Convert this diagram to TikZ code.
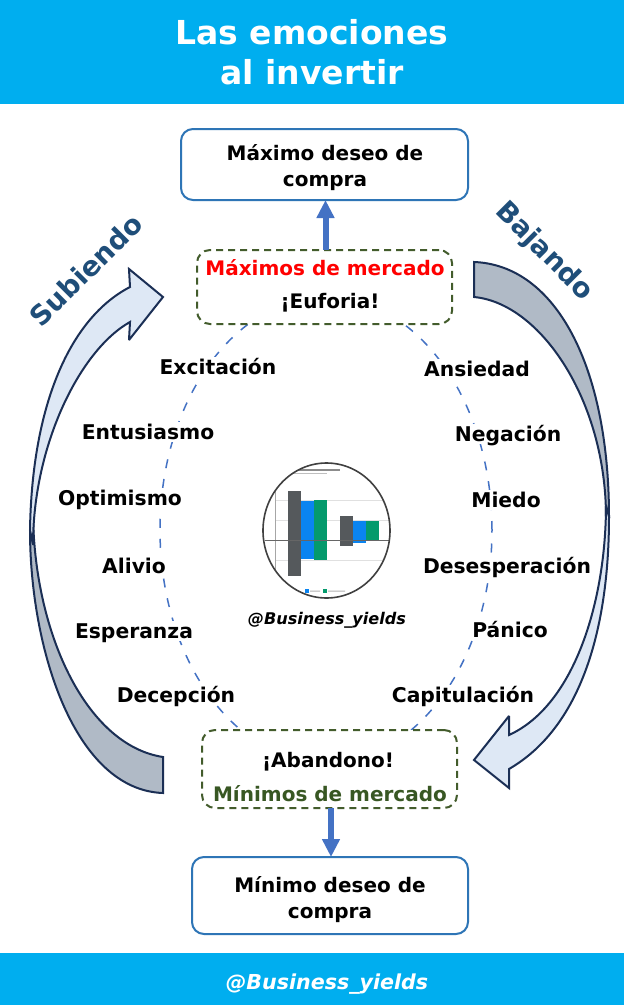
\documentclass[tikz,border=0pt]{standalone}
\usepackage{fontspec}
\setmainfont{DejaVu Sans}
\usetikzlibrary{arrows.meta}
\definecolor{banner}{HTML}{00AEEF}
\definecolor{boxblue}{HTML}{2E75B6}
\definecolor{arrowblue}{HTML}{4472C4}
\definecolor{dashgreen}{HTML}{435C2C}
\definecolor{lowgreen}{HTML}{385723}
\definecolor{titleblue}{HTML}{1F4E79}
\definecolor{ribbonlight}{HTML}{DEE8F5}
\definecolor{ribbondark}{HTML}{B0BAC6}
\definecolor{ribbonline}{HTML}{1B2F55}
\definecolor{bargray}{HTML}{55595C}
\definecolor{barblue}{HTML}{0A84F0}
\definecolor{bargreen}{HTML}{049A6C}
\tikzset{
  x=1pt,y=-1pt,
  bannerbox/.style={fill=banner,draw=none},
  decisionbox/.style={draw=boxblue,line width=2pt,rounded corners=12pt,fill=white,anchor=north west,inner sep=0pt,outer sep=0pt},
  marketbox/.style={draw=dashgreen,line width=2pt,dash pattern=on 7pt off 5pt,rounded corners=13pt,fill=white,anchor=north west,inner sep=0pt,outer sep=0pt},
  bold18/.style={font=\fontsize{20}{26}\selectfont\bfseries,align=center,inner sep=0pt},
  emotion/.style={font=\fontsize{20.3}{22}\selectfont\bfseries,fill=white,inner xsep=1pt,inner ysep=1pt,text height=16pt,text depth=2pt},
  thick arrow/.style={draw=arrowblue,line width=6pt,-{Triangle[width=17pt,length=18pt]}},
  ribbon/.style={draw=ribbonline,line width=2pt,line join=miter,miter limit=3},
  side/.style={font=\fontsize{27.5}{30}\selectfont\bfseries,text=titleblue,inner sep=0pt},
}
\begin{document}
\begin{tikzpicture}
\useasboundingbox (0,0) rectangle (624,1005);
\fill[white] (0,0) rectangle (624,1005);
% banners
\path[bannerbox] (0,0) rectangle (624,104);
\path[bannerbox] (0,953) rectangle (624,1005);
\node[font=\fontsize{33}{40}\selectfont\bfseries,text=white,align=center,inner sep=0pt] (title) at (312,52) {Las emociones\\al invertir};
\node[font=\fontsize{20.6}{26}\selectfont\bfseries\itshape,text=white,inner sep=0pt] (foot) at (327,984.5) {@Business\_yields};
% dashed oval
\draw[arrowblue,line width=1.5pt,dash pattern=on 9pt off 11pt] (326,530) ellipse [x radius=166pt,y radius=233pt];
% ribbons
\draw[ribbon,fill=ribbondark] (163,757) .. controls (85,745) and (33,630) .. (33,510)
  -- (30,530) .. controls (30,650) and (75,790) .. (163,793) -- cycle;
\draw[ribbon,fill=ribbonlight] (30,530) .. controls (32,405) and (70,318) .. (130,287)
  -- (129,269) -- (163,297) -- (129,340) -- (130,322)
  .. controls (80,350) and (33,445) .. (33,545) -- cycle;
\draw[ribbon,fill=ribbondark] (474,262) .. controls (555,265) and (609,365) .. (609,517)
  -- (606,517) .. controls (606,400) and (540,303) .. (474,297) -- cycle;
\draw[ribbon,fill=ribbonlight] (609,517) .. controls (609,620) and (585,725) .. (509,769)
  -- (509,788) -- (474,760) -- (509,716) -- (509,735)
  .. controls (575,705) and (606,600) .. (606,505) -- cycle;
% boxes
\node[decisionbox,minimum width=287pt,minimum height=71pt] (maxbox) at (181,129) {};
\node[marketbox,minimum width=255pt,minimum height=74pt] (topmarket) at (197,250) {};
\node[marketbox,minimum width=255pt,minimum height=78pt] (lowmarket) at (202,730) {};
\node[decisionbox,minimum width=276pt,minimum height=77pt] (minbox) at (192,857) {};
\node[bold18] (maxtext) at (325,167.5) {Máximo deseo de\\compra};
\node[bold18] (mintext) at (330,899.5) {Mínimo deseo de\\compra};
\node[bold18,text=red] (toptext) at (325,268) {Máximos de mercado};
\node[bold18] (euforia) at (330,302.5) {¡Euforia!};
\node[bold18] (abandono) at (328,761.5) {¡Abandono!};
\node[bold18,text=lowgreen] (lowtext) at (330,794) {Mínimos de mercado};
\draw[thick arrow] ([xshift=1pt]topmarket.north) -- ([xshift=1pt]topmarket.north |- maxbox.south);
\draw[thick arrow] ([xshift=1.5pt]lowmarket.south) -- ([xshift=1.5pt]lowmarket.south |- minbox.north);
% emotions
\node[emotion] (e1) at (218,367) {Excitación};
\node[emotion] (e2) at (148,432) {Entusiasmo};
\node[emotion] (e3) at (120,498) {Optimismo};
\node[emotion] (e4) at (134,566) {Alivio};
\node[emotion] (e5) at (134,631) {Esperanza};
\node[emotion] (e6) at (176,695) {Decepción};
\node[emotion] (d1) at (477,369) {Ansiedad};
\node[emotion] (d2) at (508,434) {Negación};
\node[emotion] (d3) at (506,500) {Miedo};
\node[emotion] (d4) at (507,566) {Desesperación};
\node[emotion] (d5) at (510,630) {Pánico};
\node[emotion] (d6) at (463,695) {Capitulación};
% side titles
\node[side,rotate=45] (up) at (86,270) {Subiendo};
\node[side,rotate=-45] (down) at (544,252) {Bajando};
% chart in circle
\begin{scope}
\clip (326.5,530.5) ellipse [x radius=63.5pt,y radius=67.5pt];
\fill[white] (260,460) rectangle (392,600);
\draw[black!12,line width=.8pt] (275,500) -- (392,500) (275,520) -- (392,520) (275,560) -- (392,560);
\draw[black!35,line width=1pt] (275,490) -- (275,580);
\fill[bargray] (288,491) rectangle (301,576);
\fill[barblue] (301,501) rectangle (314,559);
\fill[bargreen] (314,500) rectangle (327,560);
\fill[bargray] (340,516) rectangle (353,546);
\fill[barblue] (353,521) rectangle (366,543);
\fill[bargreen] (366,521) rectangle (379,541);
\draw[black!60,line width=.8pt] (265,540) -- (392,540);
\fill[barblue] (305,589) rectangle (309,593);
\fill[bargreen] (323,589) rectangle (327,593);
\fill[black!45] (290,469) rectangle (340,470.5);
\fill[black!25] (290,472.5) rectangle (327,473.5);
\fill[black!30] (310,590.5) rectangle (320,591.5) (328,590.5) rectangle (345,591.5);
\end{scope}
\draw[black!75,line width=1.6pt] (326.5,530.5) ellipse [x radius=63.5pt,y radius=67.5pt];
\node[font=\fontsize{16.1}{20}\selectfont\bfseries\itshape,inner sep=0pt] (handle) at (327,620) {@Business\_yields};
\end{tikzpicture}
\end{document}
